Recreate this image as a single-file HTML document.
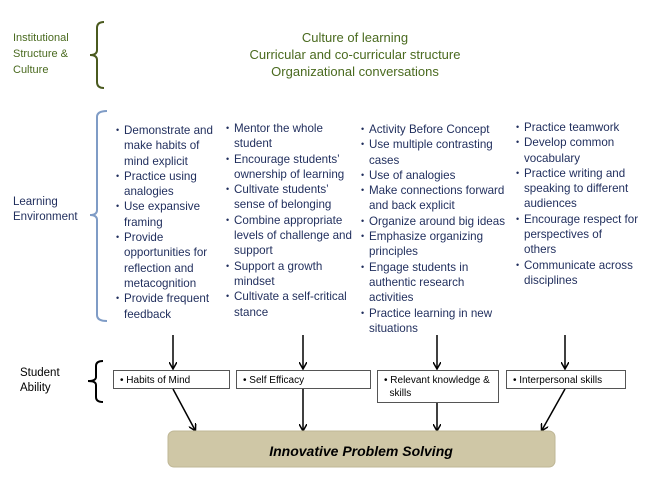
<!DOCTYPE html>
<html><head><style>
body{margin:0;width:650px;height:487px;background:#fff;position:relative;font-family:"Liberation Sans",sans-serif;overflow:hidden}
.t{position:absolute;font-size:11.6px;line-height:15.3px;color:#1f2d5c;white-space:nowrap}
.g{color:#4a6a1f}
ul{position:absolute;margin:0;padding:0;list-style:none;font-size:11.6px;line-height:15.3px;color:#1f2d5c}
li{position:relative;padding-left:8px;white-space:nowrap}
li:before{content:"•";position:absolute;left:0;font-size:9px}
.box{position:absolute;border:1px solid #555;background:#fff;font-size:10px;color:#000;padding:3px 0 0 6px;box-sizing:border-box;line-height:13px}
</style></head><body>
<div class="t g" style="left:13px;top:30px;line-height:16px;font-size:11px">Institutional<br>Structure &amp;<br>Culture</div>
<div class="t g" style="left:200px;top:29px;width:310px;text-align:center;font-size:13px;line-height:17px">Culture of learning<br>Curricular and co-curricular structure<br>Organizational conversations</div>
<div class="t" style="left:13px;top:195px;font-size:11.5px">Learning<br>Environment</div>
<div class="t" style="left:20px;top:366px;font-size:11.5px;color:#000">Student<br>Ability</div>
<svg width="650" height="487" style="position:absolute;left:0;top:0">
<path d="M104,22 Q97,22 97,28 L97,50 Q97,55 90,55 Q97,55 97,60 L97,82 Q97,88 104,88" fill="none" stroke="#4a5a1f" stroke-width="2"/>
<path d="M107,111 Q97,111 97,117 L97,210 Q97,215 90,215 Q97,215 97,220 L97,315 Q97,321 107,321" fill="none" stroke="#7f9cc6" stroke-width="2"/>
<path d="M103,361 Q96,361 96,366 L96,377 Q96,381 88,381 Q96,381 96,385 L96,397 Q96,402 103,402" fill="none" stroke="#000" stroke-width="2"/>
<defs><marker id="a" markerWidth="8" markerHeight="8" refX="6" refY="4" orient="auto" markerUnits="userSpaceOnUse"><path d="M0,0 L7,4 L0,8" fill="none" stroke="#000" stroke-width="1.5"/></marker></defs>
<g stroke="#000" stroke-width="1.5" marker-end="url(#a)">
<line x1="173" y1="335" x2="173" y2="368"/><line x1="303" y1="335" x2="303" y2="368"/>
<line x1="437" y1="335" x2="437" y2="368"/><line x1="565" y1="335" x2="565" y2="368"/>
<line x1="173" y1="389" x2="195" y2="430"/><line x1="303" y1="389" x2="303" y2="430"/>
<line x1="437" y1="402" x2="437" y2="430"/><line x1="565" y1="389" x2="542" y2="430"/>
</g>
<rect x="168" y="431" width="387" height="36" rx="6" fill="#cfc7a6" stroke="#bfb796"/>
<text x="361" y="456" text-anchor="middle" font-family="Liberation Sans" font-style="italic" font-weight="bold" font-size="14">Innovative Problem Solving</text>
</svg>
<ul style="left:116px;top:123px"><li>Demonstrate and<br>make habits of<br>mind explicit</li><li>Practice using<br>analogies</li><li>Use expansive<br>framing</li><li>Provide<br>opportunities for<br>reflection and<br>metacognition</li><li>Provide frequent<br>feedback</li></ul>
<ul style="left:226px;top:121px"><li>Mentor the whole<br>student</li><li>Encourage students’<br>ownership of learning</li><li>Cultivate students’<br>sense of belonging</li><li>Combine appropriate<br>levels of challenge and<br>support</li><li>Support a growth<br>mindset</li><li>Cultivate a self-critical<br>stance</li></ul>
<ul style="left:361px;top:122px"><li>Activity Before Concept</li><li>Use multiple contrasting<br>cases</li><li>Use of analogies</li><li>Make connections forward<br>and back explicit</li><li>Organize around big ideas</li><li>Emphasize organizing<br>principles</li><li>Engage students in<br>authentic research<br>activities</li><li>Practice learning in new<br>situations</li></ul>
<ul style="left:516px;top:120px"><li>Practice teamwork</li><li>Develop common<br>vocabulary</li><li>Practice writing and<br>speaking to different<br>audiences</li><li>Encourage respect for<br>perspectives of<br>others</li><li>Communicate across<br>disciplines</li></ul>
<div class="box" style="left:113px;top:370px;width:117px;height:19px">• Habits of Mind</div>
<div class="box" style="left:236px;top:370px;width:135px;height:19px">• Self Efficacy</div>
<div class="box" style="left:377px;top:370px;width:122px;height:33px">• Relevant knowledge &amp;<br>&nbsp;&nbsp;skills</div>
<div class="box" style="left:506px;top:370px;width:120px;height:19px">• Interpersonal skills</div>
</body></html>
